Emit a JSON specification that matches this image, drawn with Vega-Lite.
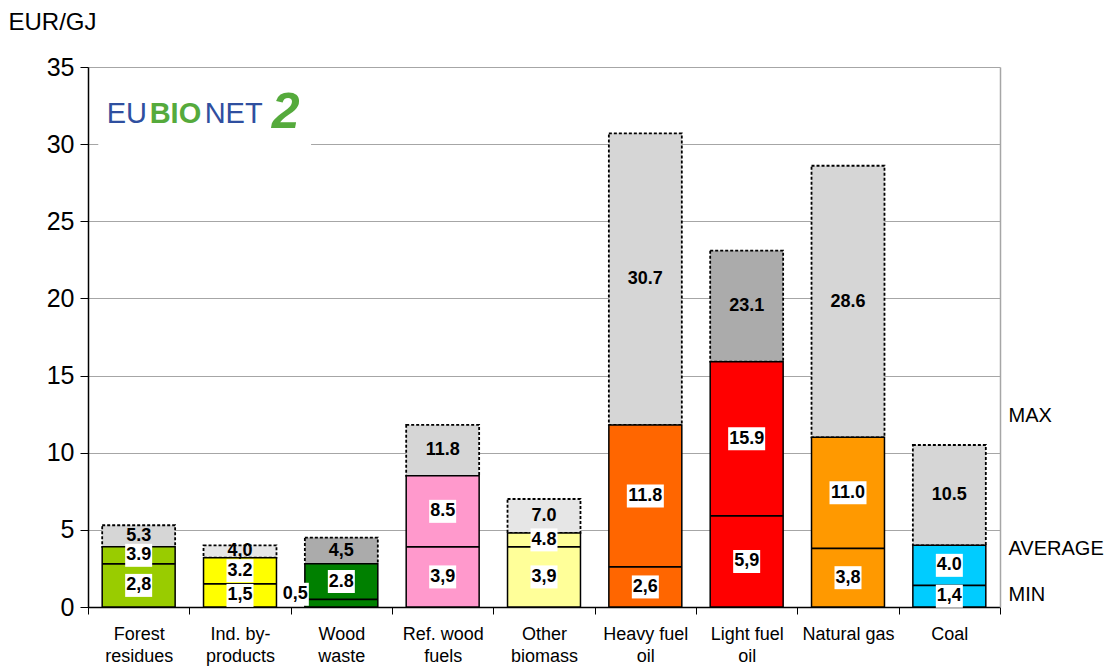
{
  "$schema": "https://vega.github.io/schema/vega-lite/v6.json",
  "width": 912,
  "height": 540,
  "autosize": "none",
  "padding": {"left": 88, "top": 67, "right": 117, "bottom": 61},
  "background": "white",
  "config": {"font": "Liberation Sans", "view": {"stroke": null}},
  "datasets": {
    "fuels": [
      {"cat": "Forest|residues", "min": 2.8, "avg": 3.9, "max": 5.3, "minLabel": "2,8", "avgLabel": "3.9", "maxLabel": "5.3"},
      {"cat": "Ind. by-|products", "min": 1.5, "avg": 3.2, "max": 4.0, "minLabel": "1,5", "avgLabel": "3.2", "maxLabel": "4,0"},
      {"cat": "Wood|waste", "min": 0.5, "avg": 2.8, "max": 4.5, "minLabel": "0,5", "avgLabel": "2.8", "maxLabel": "4,5"},
      {"cat": "Ref. wood|fuels", "min": 3.9, "avg": 8.5, "max": 11.8, "minLabel": "3,9", "avgLabel": "8.5", "maxLabel": "11.8"},
      {"cat": "Other|biomass", "min": 3.9, "avg": 4.8, "max": 7.0, "minLabel": "3,9", "avgLabel": "4.8", "maxLabel": "7.0"},
      {"cat": "Heavy fuel|oil", "min": 2.6, "avg": 11.8, "max": 30.7, "minLabel": "2,6", "avgLabel": "11.8", "maxLabel": "30.7"},
      {"cat": "Light fuel|oil", "min": 5.9, "avg": 15.9, "max": 23.1, "minLabel": "5,9", "avgLabel": "15.9", "maxLabel": "23.1"},
      {"cat": "Natural gas", "min": 3.8, "avg": 11.0, "max": 28.6, "minLabel": "3,8", "avgLabel": "11.0", "maxLabel": "28.6"},
      {"cat": "Coal", "min": 1.4, "avg": 4.0, "max": 10.5, "minLabel": "1,4", "avgLabel": "4.0", "maxLabel": "10.5"}
    ]
  },
  "data": {"name": "fuels"},
  "encoding": {
    "x": {
      "field": "cat",
      "type": "nominal",
      "sort": ["Forest|residues", "Ind. by-|products", "Wood|waste", "Ref. wood|fuels", "Other|biomass", "Heavy fuel|oil", "Light fuel|oil", "Natural gas", "Coal"],
      "scale": {"paddingInner": 0, "paddingOuter": 0},
      "axis": {
        "title": null,
        "labelAngle": 0,
        "labelExpr": "isString(datum.value) ? split(datum.value, '|') : ''",
        "labelFontSize": 18,
        "labelColor": "black",
        "labelPadding": 11,
        "labelLineHeight": 22,
        "labelBaseline": "top",
        "tickBand": "extent",
        "tickColor": "black",
        "tickSize": 7,
        "domainColor": "black",
        "domainWidth": 1.5,
        "grid": false
      }
    }
  },
  "layer": [
    {
      "data": {"values": [{"cat": "Forest|residues"}]},
      "mark": {"type": "bar", "color": "white", "width": {"band": 2.1}, "xOffset": 66},
      "encoding": {
        "y": {"datum": 29.8, "type": "quantitative", "scale": {"domain": [0, 35], "nice": false}, "axis": null},
        "y2": {"datum": 33.6}
      }
    },
    {
      "mark": {"type": "bar", "width": {"band": 0.72}, "stroke": "black", "strokeWidth": 1.8, "strokeDash": [3, 2]},
      "encoding": {
        "y": {
          "field": "avg",
          "type": "quantitative",
          "scale": {"domain": [0, 35], "nice": false},
          "axis": {
            "title": "EUR/GJ",
            "titleAngle": 0,
            "titleAlign": "left",
            "titleBaseline": "middle",
            "titleX": -80,
            "titleY": -45,
            "titleFontSize": 24,
            "titleFontWeight": "normal",
            "titleColor": "black",
            "values": [0, 5, 10, 15, 20, 25, 30, 35],
            "labelFontSize": 25,
            "labelColor": "black",
            "labelPadding": 6,
            "labelFlush": false,
            "tickSize": 8,
            "tickColor": "black",
            "domainColor": "black",
            "domainWidth": 1.5,
            "grid": true,
            "gridColor": "#a6a6a6",
            "gridWidth": 1.2
          }
        },
        "y2": {"field": "max"},
        "fill": {
          "condition": [
            {"test": "datum.cat === 'Wood|waste' || datum.cat === 'Light fuel|oil'", "value": "#ababab"},
            {"test": "datum.cat === 'Other|biomass' || datum.cat === 'Ind. by-|products'", "value": "#e6e6e6"}
          ],
          "value": "#d6d6d6"
        }
      }
    },
    {
      "mark": {"type": "bar", "width": {"band": 0.72}, "stroke": "black", "strokeWidth": 1.5},
      "encoding": {
        "y": {"field": "avg", "type": "quantitative", "scale": {"domain": [0, 35], "nice": false}, "axis": null},
        "fill": {
          "field": "cat",
          "type": "nominal",
          "scale": {
            "domain": ["Forest|residues", "Ind. by-|products", "Wood|waste", "Ref. wood|fuels", "Other|biomass", "Heavy fuel|oil", "Light fuel|oil", "Natural gas", "Coal"],
            "range": ["#99cc00", "#ffff00", "#008000", "#ff99cc", "#ffff99", "#ff6600", "#ff0000", "#ff9900", "#00ccff"]
          },
          "legend": null
        }
      }
    },
    {
      "mark": {"type": "tick", "thickness": 1.8, "size": 73, "color": "black", "opacity": 1},
      "encoding": {
        "y": {
          "field": "min",
          "type": "quantitative",
          "scale": {"domain": [0, 35], "nice": false},
          "axis": {
            "orient": "right",
            "title": null,
            "values": [0.78, 3.76, 12.44],
            "labelExpr": "datum.value > 10 ? 'MAX' : datum.value > 2 ? 'AVERAGE' : 'MIN'",
            "ticks": false,
            "tickSize": 0,
            "grid": false,
            "domainColor": "#a6a6a6",
            "domainWidth": 1.5,
            "labelFontSize": 20,
            "labelColor": "black",
            "labelPadding": 8,
            "labelOverlap": false
          }
        }
      }
    },
    {
      "transform": [{"filter": "datum.cat !== 'Wood|waste'"}, {"calculate": "datum.min / 2", "as": "pos"}],
      "mark": {"type": "tick", "thickness": 23, "color": "white", "opacity": 1},
      "encoding": {
        "y": {"field": "pos", "type": "quantitative", "scale": {"domain": [0, 35], "nice": false}, "axis": null},
        "size": {"condition": {"test": "length(datum.minLabel) > 3", "value": 37}, "value": 27}
      }
    },
    {
      "transform": [{"filter": "datum.cat !== 'Wood|waste'"}, {"calculate": "datum.min / 2", "as": "pos"}],
      "mark": {"type": "text", "fontSize": 18, "fontWeight": "bold", "color": "black", "baseline": "middle", "align": "center"},
      "encoding": {
        "y": {"field": "pos", "type": "quantitative", "scale": {"domain": [0, 35], "nice": false}, "axis": null},
        "text": {"field": "minLabel"}
      }
    },
    {
      "transform": [{"filter": "datum.cat === 'Wood|waste'"}],
      "mark": {"type": "tick", "thickness": 23, "color": "white", "opacity": 1, "size": 27, "xOffset": -46, "yOffset": -5},
      "encoding": {
        "y": {"field": "min", "type": "quantitative", "scale": {"domain": [0, 35], "nice": false}, "axis": null}
      }
    },
    {
      "transform": [{"filter": "datum.cat === 'Wood|waste'"}],
      "mark": {"type": "text", "fontSize": 18, "fontWeight": "bold", "color": "black", "baseline": "middle", "align": "center", "xOffset": -46, "yOffset": -5},
      "encoding": {
        "y": {"field": "min", "type": "quantitative", "scale": {"domain": [0, 35], "nice": false}, "axis": null},
        "text": {"field": "minLabel"}
      }
    },
    {
      "transform": [{"calculate": "(datum.min + datum.avg) / 2", "as": "pos"}],
      "mark": {"type": "tick", "thickness": 23, "color": "white", "opacity": 1},
      "encoding": {
        "y": {"field": "pos", "type": "quantitative", "scale": {"domain": [0, 35], "nice": false}, "axis": null},
        "size": {"condition": {"test": "length(datum.avgLabel) > 3", "value": 37}, "value": 27}
      }
    },
    {
      "transform": [{"calculate": "(datum.min + datum.avg) / 2", "as": "pos"}],
      "mark": {"type": "text", "fontSize": 18, "fontWeight": "bold", "color": "black", "baseline": "middle", "align": "center"},
      "encoding": {
        "y": {"field": "pos", "type": "quantitative", "scale": {"domain": [0, 35], "nice": false}, "axis": null},
        "text": {"field": "avgLabel"}
      }
    },
    {
      "transform": [{"calculate": "(datum.avg + datum.max) / 2", "as": "pos"}],
      "mark": {"type": "text", "fontSize": 18, "fontWeight": "bold", "color": "black", "baseline": "middle", "align": "center"},
      "encoding": {
        "y": {"field": "pos", "type": "quantitative", "scale": {"domain": [0, 35], "nice": false}, "axis": null},
        "text": {"field": "maxLabel"}
      }
    },
    {
      "data": {"values": [{"cat": "Forest|residues", "t": "EU"}]},
      "mark": {"type": "text", "fontSize": 29, "color": "#2f4f9f", "align": "left", "baseline": "middle", "dx": -32},
      "encoding": {
        "y": {"datum": 31.95, "type": "quantitative", "scale": {"domain": [0, 35], "nice": false}, "axis": null},
        "text": {"field": "t"}
      }
    },
    {
      "data": {"values": [{"cat": "Forest|residues", "t": "BIO"}]},
      "mark": {"type": "text", "fontSize": 29, "fontWeight": "bold", "color": "#55aa3c", "align": "left", "baseline": "middle", "dx": 11},
      "encoding": {
        "y": {"datum": 31.95, "type": "quantitative", "scale": {"domain": [0, 35], "nice": false}, "axis": null},
        "text": {"field": "t"}
      }
    },
    {
      "data": {"values": [{"cat": "Forest|residues", "t": "NET"}]},
      "mark": {"type": "text", "fontSize": 29, "color": "#2f4f9f", "align": "left", "baseline": "middle", "dx": 66},
      "encoding": {
        "y": {"datum": 31.95, "type": "quantitative", "scale": {"domain": [0, 35], "nice": false}, "axis": null},
        "text": {"field": "t"}
      }
    },
    {
      "data": {"values": [{"cat": "Forest|residues", "t": "2"}]},
      "mark": {"type": "text", "fontSize": 50, "fontStyle": "italic", "fontWeight": "bold", "color": "#55aa3c", "align": "center", "baseline": "middle", "dx": 147},
      "encoding": {
        "y": {"datum": 32.0, "type": "quantitative", "scale": {"domain": [0, 35], "nice": false}, "axis": null},
        "text": {"field": "t"}
      }
    }
  ],
  "resolve": {"axis": {"y": "independent"}}
}
